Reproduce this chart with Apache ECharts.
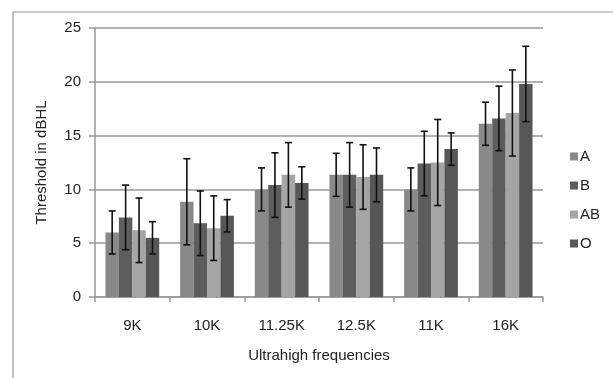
<!DOCTYPE html>
<html>
<head>
<meta charset="utf-8">
<script src="https://cdn.jsdelivr.net/npm/echarts@6/dist/echarts.min.js"></script>
<style>
  html, body { margin: 0; padding: 0; background: #fff; }
  #chart { width: 613px; height: 378px; }
</style>
</head>
<body>
<div id="chart"></div>
<script>
// frequencies on x axis
var categories = ['9K', '10K', '11.25K', '12.5K', '11K', '16K'];
var groups = ['A', 'B', 'AB', 'O'];

// mean thresholds per blood group
var meanA  = [6.0, 8.85, 10.0, 11.35, 10.0, 16.1];
var meanB  = [7.4, 6.85, 10.4, 11.35, 12.4, 16.6];
var meanAB = [6.2, 6.4, 11.35, 11.15, 12.5, 17.1];
var meanO  = [5.5, 7.55, 10.6, 11.35, 13.75, 19.8];

// error (+/-) per blood group
var errA  = [2.0, 4.0, 2.0, 2.0, 2.0, 2.0];
var errB  = [3.0, 3.0, 3.0, 3.0, 3.0, 3.0];
var errAB = [3.0, 3.0, 3.0, 3.0, 4.0, 4.0];
var errO  = [1.5, 1.5, 1.5, 2.5, 1.5, 3.5];

var yTicks = [0, 5, 10, 15, 20, 25];

var means = [meanA, meanB, meanAB, meanO];
var errs = [errA, errB, errAB, errO];
var colors = ['#898989', '#5d5d5d', '#a5a5a5', '#575757'];
var catGap = 0.28;

var chart = echarts.init(document.getElementById('chart'));

var series = [];
groups.forEach(function (g, gi) {
    series.push({
        name: g,
        type: 'bar',
        data: means[gi],
        barGap: '0%',
        barCategoryGap: (catGap * 100) + '%',
        itemStyle: { color: colors[gi] },
        emphasis: { disabled: true }
    });
});
groups.forEach(function (g, gi) {
    var d = means[gi].map(function (m, i) {
        return [i, m - errs[gi][i], m + errs[gi][i]];
    });
    series.push({
        name: g + ' err',
        type: 'custom',
        z: 10,
        data: d,
        encode: { x: 0, y: [1, 2] },
        renderItem: function (params, api) {
            var ci = api.value(0);
            var lo = api.coord([ci, api.value(1)]);
            var hi = api.coord([ci, api.value(2)]);
            var catW = api.size([1, 0])[0];
            var bw = catW * (1 - catGap) / 4;
            var x = lo[0] + (gi - 1.5) * bw;
            var cap = 3.5;
            var st = { stroke: '#111', lineWidth: 1.6 };
            return {
                type: 'group',
                children: [
                    { type: 'line', shape: { x1: x, y1: hi[1], x2: x, y2: lo[1] }, style: st },
                    { type: 'line', shape: { x1: x - cap, y1: hi[1], x2: x + cap, y2: hi[1] }, style: st },
                    { type: 'line', shape: { x1: x - cap, y1: lo[1], x2: x + cap, y2: lo[1] }, style: st }
                ]
            };
        }
    });
});

var option = {
    animation: false,
    textStyle: { fontFamily: 'Liberation Sans, Arial, sans-serif' },
    graphic: [{
        type: 'rect',
        shape: { x: 13, y: 12, width: 700, height: 500 },
        style: { fill: 'none', stroke: '#9a9a9a', lineWidth: 1.2 },
        silent: true
    }],
    grid: { left: 95, right: 70, top: 28, bottom: 81 },
    legend: {
        data: groups,
        orient: 'vertical',
        left: 565,
        top: 144,
        itemWidth: 8,
        itemHeight: 8,
        itemGap: 14,
        icon: 'rect',
        textStyle: { fontSize: 15, color: '#222', padding: [0, 0, 0, -3] }
    },
    xAxis: {
        type: 'category',
        data: categories,
        name: 'Ultrahigh frequencies',
        nameLocation: 'middle',
        nameGap: 51,
        nameTextStyle: { fontSize: 15, color: '#222' },
        axisLine: { lineStyle: { color: '#999', width: 1.5 } },
        axisTick: { show: true, length: 5, lineStyle: { color: '#999', width: 1.5 } },
        axisLabel: { fontSize: 15, color: '#222', margin: 21 }
    },
    yAxis: {
        type: 'value',
        min: 0,
        max: 25,
        interval: 5,
        name: 'Threshold in dBHL',
        nameLocation: 'middle',
        nameGap: 46,
        nameTextStyle: { fontSize: 15, color: '#222' },
        axisLine: { show: true, lineStyle: { color: '#999', width: 1.5 } },
        axisTick: { show: true, length: 6, lineStyle: { color: '#999', width: 1.5 } },
        axisLabel: { fontSize: 15, color: '#222', margin: 14 },
        splitLine: { lineStyle: { color: '#999', width: 1.5 } }
    },
    series: series
};

chart.setOption(option);
</script>
</body>
</html>
